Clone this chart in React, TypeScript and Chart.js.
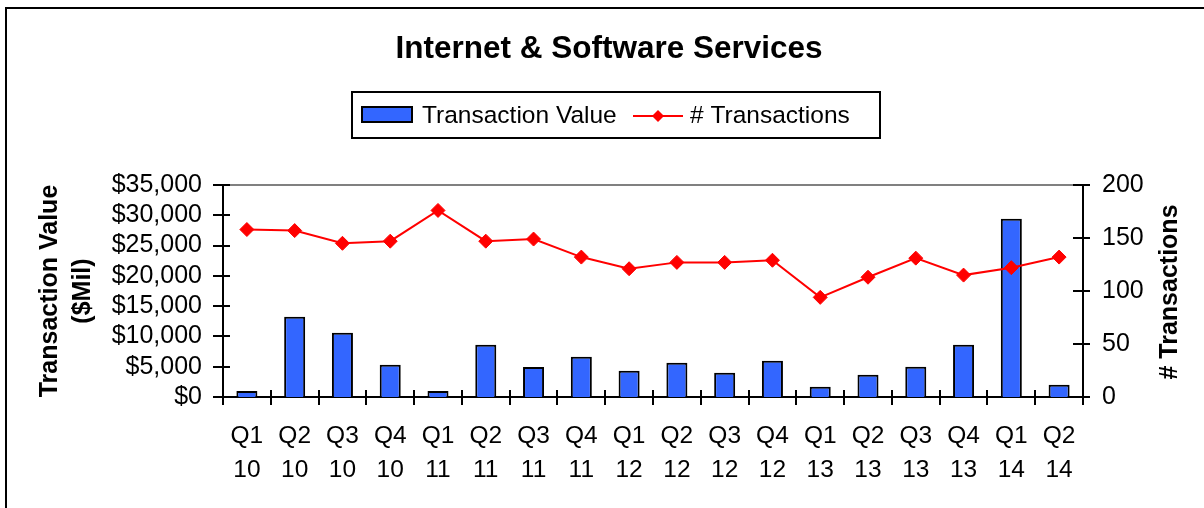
import React, { useEffect, useRef } from "react";
import { Chart, registerables } from "chart.js";

Chart.register(...registerables);

const quarters = ["Q1", "Q2", "Q3", "Q4", "Q1", "Q2", "Q3", "Q4", "Q1", "Q2", "Q3", "Q4", "Q1", "Q2", "Q3", "Q4", "Q1", "Q2"];
const years = ["10", "10", "10", "10", "11", "11", "11", "11", "12", "12", "12", "12", "13", "13", "13", "13", "14", "14"];
const transactionValue = [1000, 13260, 10620, 5330, 1000, 8640, 4950, 6660, 4340, 5660, 4010, 5990, 1700, 3680, 5000, 8640, 29440, 2030];
const transactionCount = [158, 157, 145, 147, 176, 147, 149, 132, 121, 127, 127, 129, 94, 113, 131, 115, 122, 132];

const chartTitle = "Internet & Software Services";
const leftTitle = ["Transaction Value", "($Mil)"];
const rightTitle = "# Transactions";
const valueLabel = "Transaction Value";
const countLabel = "# Transactions";

const FONT = "Arial, 'Liberation Sans', sans-serif";

const decorPlugin = {
  id: "decor",
  afterDraw(chart: any) {
    const ctx = chart.ctx as CanvasRenderingContext2D;
    const area = chart.chartArea;
    const yl = chart.scales.y;
    const yr = chart.scales.y1;
    ctx.save();

    // outer frame (top & left)
    ctx.strokeStyle = "#000";
    ctx.lineWidth = 2;
    ctx.beginPath();
    ctx.moveTo(6, 1300);
    ctx.lineTo(6, 8);
    ctx.lineTo(1300, 8);
    ctx.stroke();

    // gray top border of plot area
    ctx.strokeStyle = "#808080";
    ctx.lineWidth = 2;
    ctx.beginPath();
    ctx.moveTo(area.left, area.top);
    ctx.lineTo(area.right, area.top);
    ctx.stroke();

    // tick marks
    ctx.strokeStyle = "#000";
    ctx.lineWidth = 2;
    ctx.beginPath();
    yl.ticks.forEach((t: any) => {
      const y = Math.round(yl.getPixelForValue(t.value));
      ctx.moveTo(area.left - 10, y);
      ctx.lineTo(area.left + 7, y);
    });
    yr.ticks.forEach((t: any) => {
      const y = Math.round(yr.getPixelForValue(t.value));
      ctx.moveTo(area.right - 10, y);
      ctx.lineTo(area.right + 7, y);
    });
    const n = chart.data.labels.length;
    const w = (area.right - area.left) / n;
    for (let i = 0; i <= n; i++) {
      const x = Math.round(area.left + i * w);
      ctx.moveTo(x, area.bottom - 7);
      ctx.lineTo(x, area.bottom + 8);
    }
    ctx.stroke();

    // title
    ctx.fillStyle = "#000";
    ctx.font = `bold 31.5px ${FONT}`;
    ctx.textAlign = "center";
    ctx.textBaseline = "alphabetic";
    ctx.fillText(chartTitle, 609, 58);

    // legend
    ctx.lineWidth = 2;
    ctx.strokeStyle = "#000";
    ctx.strokeRect(352, 92, 528, 46);
    const ds0 = chart.data.datasets.find((d: any) => d.label === valueLabel);
    const ds1 = chart.data.datasets.find((d: any) => d.label === countLabel);
    ctx.fillStyle = ds0.backgroundColor;
    ctx.fillRect(362, 107, 50, 15);
    ctx.strokeRect(362, 107, 50, 15);
    ctx.fillStyle = "#000";
    ctx.font = `24.5px ${FONT}`;
    ctx.textAlign = "left";
    ctx.fillText(valueLabel, 422, 123);
    ctx.strokeStyle = ds1.borderColor;
    ctx.beginPath();
    ctx.moveTo(633, 116);
    ctx.lineTo(683, 116);
    ctx.stroke();
    ctx.fillStyle = ds1.backgroundColor;
    ctx.beginPath();
    ctx.moveTo(658, 110);
    ctx.lineTo(664, 116);
    ctx.lineTo(658, 122);
    ctx.lineTo(652, 116);
    ctx.closePath();
    ctx.fill();
    ctx.fillStyle = "#000";
    ctx.fillText(countLabel, 690, 123);

    // axis titles
    ctx.font = `bold 25px ${FONT}`;
    ctx.textAlign = "center";
    ctx.textBaseline = "middle";
    ctx.save();
    ctx.translate(50, 291);
    ctx.rotate(-Math.PI / 2);
    ctx.fillText(leftTitle[0], 0, 0);
    ctx.fillText(leftTitle[1], 0, 33);
    ctx.restore();
    ctx.save();
    ctx.translate(1170, 292);
    ctx.rotate(-Math.PI / 2);
    ctx.fillText(rightTitle, 0, 0);
    ctx.restore();

    ctx.restore();
  },
};

export default function App() {
  const ref = useRef<HTMLCanvasElement | null>(null);
  useEffect(() => {
    if (!ref.current) return;
    const chart = new Chart(ref.current, {
      type: "bar",
      data: {
        labels: quarters.map((q, i) => [q, years[i]]),
        datasets: [
          {
            type: "line",
            label: countLabel,
            data: transactionCount,
            yAxisID: "y1",
            borderColor: "#FF0000",
            backgroundColor: "#FF0000",
            borderWidth: 2,
            pointStyle: "rectRot",
            pointRadius: 7,
            pointBorderWidth: 1,
            pointBackgroundColor: "#FF0000",
            pointBorderColor: "#FF0000",
            order: 0,
          } as any,
          {
            type: "bar",
            label: valueLabel,
            data: transactionValue,
            yAxisID: "y",
            backgroundColor: "#3366FF",
            borderColor: "#000000",
            borderWidth: 2,
            barPercentage: 0.44,
            categoryPercentage: 1,
            order: 1,
          } as any,
        ],
      },
      options: {
        responsive: false,
        animation: false,
        layout: { padding: { top: 185, left: 0, right: 0, bottom: 0 } },
        plugins: {
          legend: { display: false },
          title: { display: false },
          tooltip: { enabled: false },
        },
        scales: {
          x: {
            grid: { display: false, drawTicks: false },
            border: { display: true, color: "#000", width: 2 },
            ticks: {
              color: "#000",
              font: { family: FONT, size: 24.5, lineHeight: 1.4 },
              padding: 22,
              maxRotation: 0,
              autoSkip: false,
            },
            afterFit: (s: any) => {
              s.height = 111;
            },
          },
          y: {
            position: "left",
            min: 0,
            max: 35000,
            grid: { display: false, drawTicks: false },
            border: { display: true, color: "#000", width: 2 },
            ticks: {
              stepSize: 5000,
              autoSkip: false,
              color: "#000",
              font: { family: FONT, size: 25 },
              padding: 21,
              callback: (v: any) => "$" + Number(v).toLocaleString("en-US"),
            },
            afterFit: (s: any) => {
              s.width = 223;
            },
          },
          y1: {
            position: "right",
            min: 0,
            max: 200,
            grid: { display: false, drawTicks: false },
            border: { display: true, color: "#000", width: 2 },
            ticks: {
              stepSize: 50,
              autoSkip: false,
              color: "#000",
              font: { family: FONT, size: 25 },
              padding: 19,
            },
            afterFit: (s: any) => {
              s.width = 121;
            },
          },
        },
      } as any,
      plugins: [decorPlugin],
    });
    return () => chart.destroy();
  }, []);
  return (
    <div style={{ position: "absolute", left: 0, top: 0, width: 1204, height: 508, background: "#fff" }}>
      <canvas ref={ref} width={1204} height={508} style={{ display: "block" }} />
    </div>
  );
}
